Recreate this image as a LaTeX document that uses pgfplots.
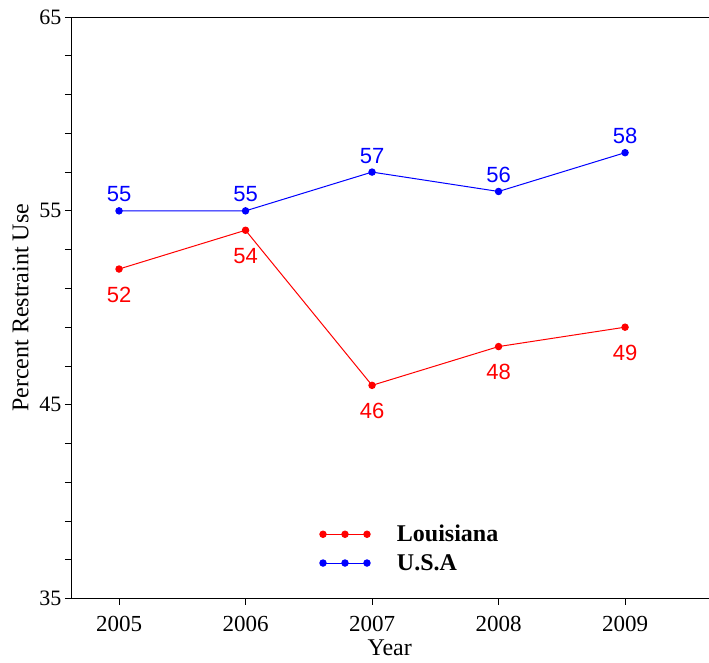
\documentclass[border=0pt]{standalone}
\usepackage{fontspec}
\setmainfont{Liberation Serif}
\newfontfamily\arialf{Liberation Sans}
\usepackage{pgfplots}
\pgfplotsset{compat=1.18}
\begin{document}
\begin{tikzpicture}
\begin{axis}[
  scale only axis,
  width=638pt, height=582pt,
  xmin=2004.62, xmax=2009.66,
  ymin=35, ymax=65,
  axis x line=box, axis y line=left,
  axis line style={line width=0.9pt, -},
  xtick={2005,2006,2007,2008,2009},
  ytick={35,45,55,65},
  minor ytick={37,39,41,43,47,49,51,53,57,59,61,63},
  xticklabel style={/pgf/number format/1000 sep={}, yshift=-8pt, font=\fontsize{23}{25}\selectfont},
  xtick pos=bottom, ytick pos=left,
  tick align=outside,
  major tick length=6pt, minor tick length=6pt,
  tick style={line width=0.8pt, black},
  /pgf/number format/assume math mode=true,
  tick label style={font=\fontsize{22}{24}\selectfont},
  xlabel={Year}, ylabel={Percent Restraint Use},
  label style={font=\fontsize{24}{26}\selectfont},
  xlabel style={yshift=-4pt, inner sep=1pt},
  ylabel style={yshift=4pt},
  legend style={draw=none, fill=none, at={(0.39,0.13)}, anchor=north west,
    font=\bfseries\fontsize{24}{26}\selectfont, row sep=7pt, inner sep=0pt},
  legend cell align=left,
  legend image code/.code={\draw[#1] plot coordinates {(0pt,0pt) (22pt,0pt) (44pt,0pt)}; \path[draw=none] (0pt,0pt) -- (72pt,0pt);},
]
\addplot[red, line width=1pt, mark=*, mark size=3.2pt,
  nodes near coords, point meta=explicit symbolic,
  every node near coord/.append style={anchor=north, yshift=-14pt, text=red, font=\arialf\fontsize{22}{24}\selectfont}]
  coordinates {(2005,52)[52] (2006,54)[54] (2007,46)[46] (2008,48)[48] (2009,49)[49]};
\addlegendentry{Louisiana}
\addplot[blue, line width=1pt, mark=*, mark size=3.2pt,
  nodes near coords, point meta=explicit symbolic,
  every node near coord/.append style={anchor=south, yshift=5pt, text=blue, font=\arialf\fontsize{22}{24}\selectfont}]
  coordinates {(2005,55)[55] (2006,55)[55] (2007,57)[57] (2008,56)[56] (2009,58)[58]};
\addlegendentry{U.S.A}
\end{axis}
\path[use as bounding box] (-71pt,-64pt) rectangle (638pt,599pt);
\end{tikzpicture}
\end{document}
